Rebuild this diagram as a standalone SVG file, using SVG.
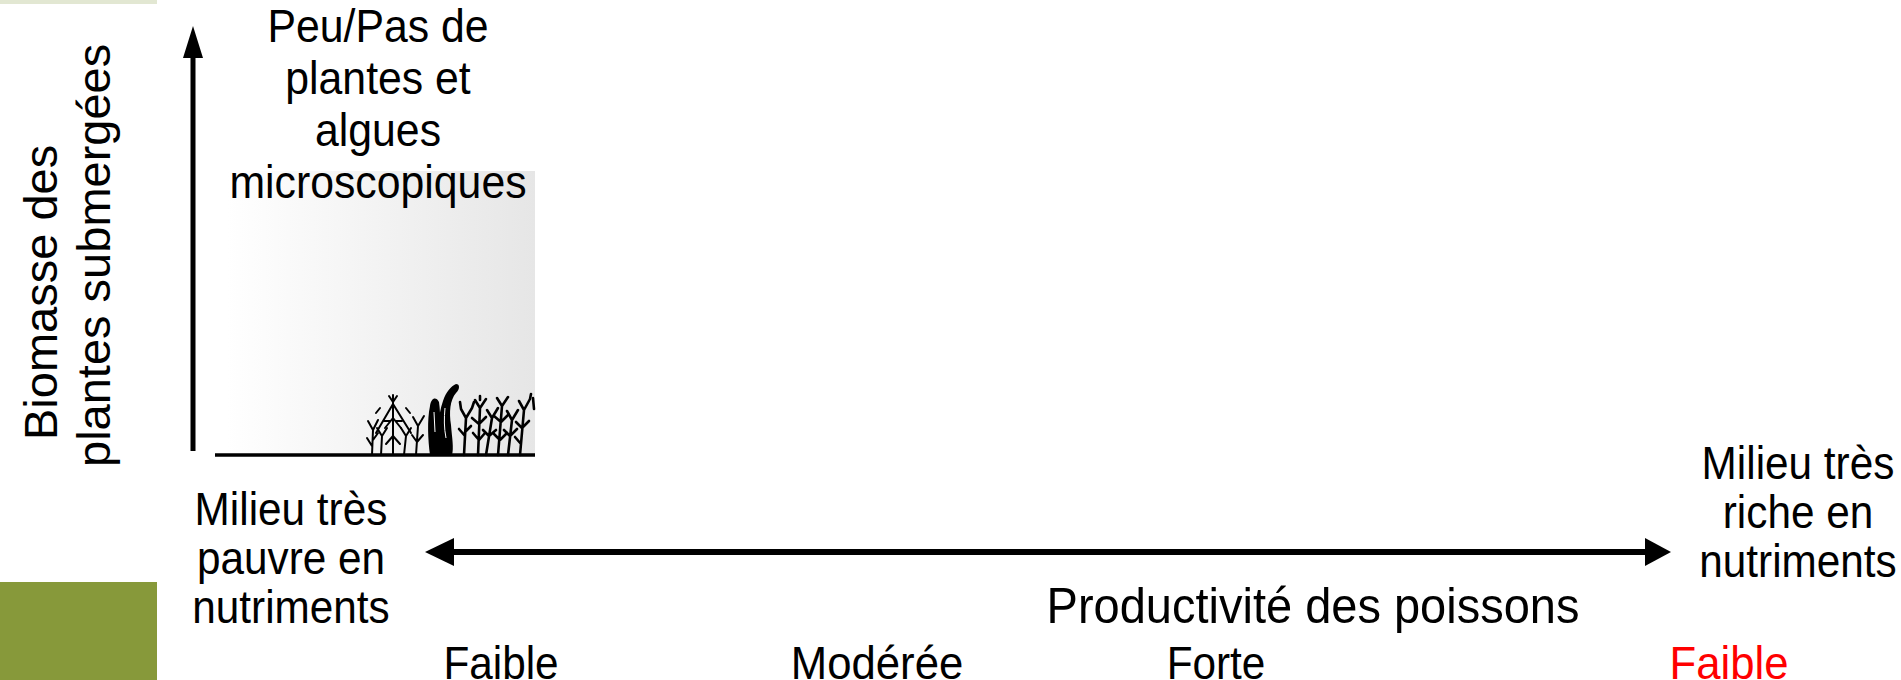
<svg xmlns="http://www.w3.org/2000/svg" width="1901" height="680" viewBox="0 0 1901 680">
  <defs>
    <linearGradient id="waterShade" x1="0" y1="0" x2="1" y2="0">
      <stop offset="0" stop-color="#ffffff"/>
      <stop offset="1" stop-color="#e6e6e6"/>
    </linearGradient>
    <style>
      .lbl { font-family: "Liberation Sans", Arial, sans-serif; fill: #000; }
      .mid { text-anchor: middle; }
      .axis { stroke: #000; fill: none; }
      .head { fill: #000; stroke: none; }
      .weed { stroke: #000; fill: none; stroke-linecap: round; stroke-linejoin: round; }
    </style>
  </defs>

  <rect width="1901" height="680" fill="#ffffff"/>

  <!-- slide decoration -->
  <g id="decor">
    <rect x="0" y="0" width="157" height="4" fill="#e2e7d2"/>
    <rect x="0" y="582" width="157" height="98" fill="#87993a"/>
  </g>

  <!-- water column with bottom vegetation -->
  <g id="lake">
    <rect x="227" y="171" width="308" height="284" fill="url(#waterShade)"/>
    <g id="plants">
      <!-- thin branching weeds, left clump -->
      <g class="weed" stroke-width="2">
        <path d="M372 455 L373 430 M373 430 L368 421 M373 430 L378 420 M372 446 L367 438 M373 440 L378 433"/>
        <path d="M381 455 L382 436 M382 436 L377 428 M382 436 L387 428"/>
        <path d="M393 455 L393 402 M393 402 L389 396 M393 402 L397 396 M393 402 L393 395"/>
        <path d="M376 433 L393 404 L411 433"/>
        <path d="M393 418 L385 428 M393 418 L401 428 M393 436 L386 444 M393 436 L400 444"/>
        <path d="M384 421 L390 421 M396 421 L402 421"/>
        <path d="M404 455 L406 436 M406 436 L401 428 M406 436 L411 428"/>
        <path d="M416 455 L418 426 M418 426 L413 417 M418 426 L424 416 M417 442 L412 435 M417 442 L423 435"/>
        <path d="M380 408 L376 413 M406 408 L410 413"/>
      </g>
      <!-- kelp fronds -->
      <path fill="#000" d="M430 455 C428 440 427 420 430 406 C431 398 436 396 439 402 C441 415 440 435 441 455 Z"/>
      <path fill="#000" d="M438 455 C437 435 438 415 443 401 C446 392 451 386 456 384 C460 384 460 389 456 393 C450 400 449 412 451 425 C452 438 454 448 452 455 Z"/>
      <path fill="none" stroke="#fff" stroke-width="1" d="M434 412 L435 432 M445 408 C444 418 444 428 446 438"/>
      <!-- denser weeds, right clump -->
      <g class="weed" stroke-width="2.6">
        <path d="M464 455 L466 418 M466 418 L461 409 M466 418 L472 408 M465 436 L459 429 M465 432 L471 426 M461 409 L460 402 M472 408 L474 402"/>
        <path d="M478 455 L480 408 M480 408 L475 400 M480 408 L486 399 M479 424 L472 418 M479 424 L486 417 M479 440 L473 433 M479 440 L485 433 M480 400 L480 396"/>
        <path d="M486 455 L492 418 M492 418 L487 410 M492 418 L498 408 M489 436 L483 430 M489 436 L496 430"/>
        <path d="M498 455 L502 406 M502 406 L497 398 M502 406 L508 397 M501 422 L494 416 M501 422 L508 415 M500 440 L494 434 M500 440 L507 433"/>
        <path d="M508 455 L512 420 M512 420 L507 411 M512 420 L518 410 M510 436 L504 430 M510 436 L517 429"/>
        <path d="M520 455 L524 410 M524 410 L519 401 M524 410 L530 399 M522 428 L516 422 M522 428 L529 421 M521 444 L515 437 M530 399 L531 394"/>
        <path d="M533 398 L534 409"/>
      </g>
    </g>
  </g>

  <!-- axes and gradient arrow -->
  <g id="connectors">
    <line class="axis" x1="193" y1="56" x2="193" y2="451" stroke-width="5"/>
    <polygon class="head" points="193,26 183,58 203,58"/>
    <line class="axis" x1="215" y1="455" x2="535" y2="455" stroke-width="3.5"/>
    <line class="axis" x1="450" y1="552" x2="1648" y2="552" stroke-width="6"/>
    <polygon class="head" points="425,552 454,538 454,566"/>
    <polygon class="head" points="1671,552 1645,538 1645,566"/>
  </g>

  <g id="y-label" class="lbl" font-size="47">
    <text transform="translate(57,440) rotate(-90)">Biomasse des</text>
    <text transform="translate(110,467) rotate(-90)">plantes submergées</text>
  </g>

  <g id="no-plants-label" class="lbl mid" font-size="46" transform="translate(378,0) scale(0.93,1)">
    <text x="0" y="42">Peu/Pas de</text>
    <text x="0" y="94">plantes et</text>
    <text x="0" y="146">algues</text>
    <text x="0" y="198">microscopiques</text>
  </g>

  <g id="poor-end" class="lbl mid" font-size="46" transform="translate(291,0) scale(0.92,1)">
    <text x="0" y="525">Milieu très</text>
    <text x="0" y="574">pauvre en</text>
    <text x="0" y="623">nutriments</text>
  </g>

  <g id="rich-end" class="lbl mid" font-size="46" transform="translate(1798,0) scale(0.92,1)">
    <text x="0" y="479">Milieu très</text>
    <text x="0" y="528">riche en</text>
    <text x="0" y="577">nutriments</text>
  </g>

  <g id="fish-title" class="lbl mid" font-size="50" transform="translate(1313,0) scale(0.94,1)">
    <text x="0" y="623">Productivité des poissons</text>
  </g>

  <g id="fish-levels" class="lbl mid" font-size="47">
    <text transform="translate(501,679) scale(0.9,1)">Faible</text>
    <text transform="translate(877,679) scale(0.93,1)">Modérée</text>
    <text transform="translate(1216,679) scale(0.9,1)">Forte</text>
    <text transform="translate(1729,679) scale(0.93,1)" fill="#ff0000">Faible</text>
  </g>
</svg>
